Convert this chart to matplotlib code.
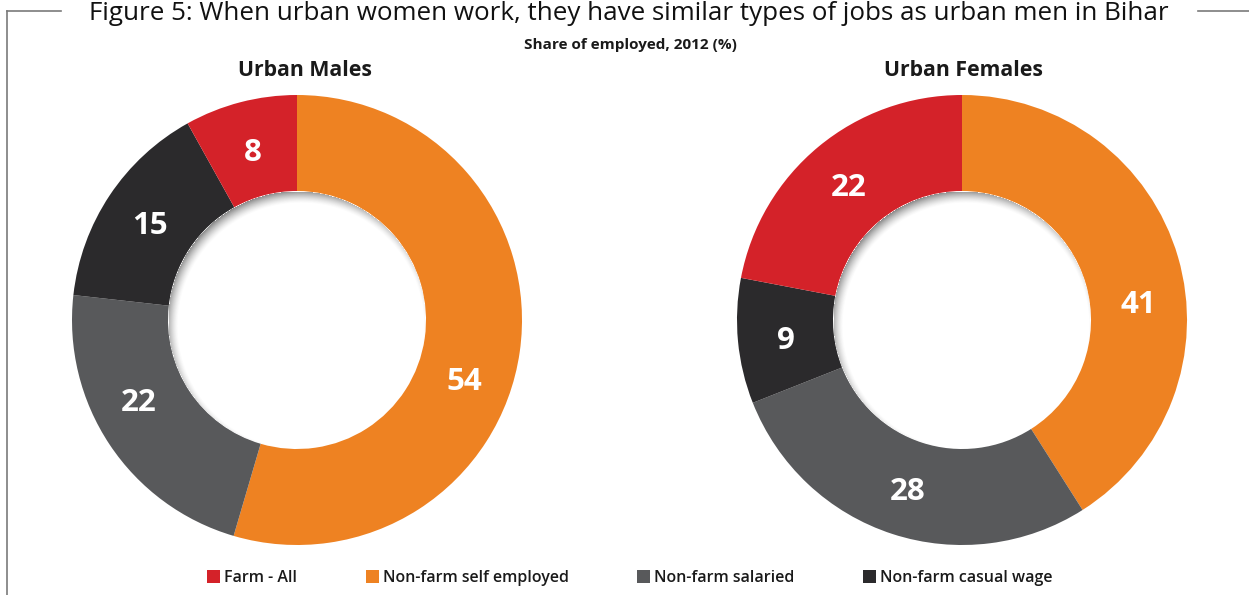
import numpy as np
import matplotlib
matplotlib.use("Agg")
import matplotlib.pyplot as plt
from matplotlib.patches import Patch, Circle
from matplotlib.lines import Line2D

# ---------------- data ----------------
categories = ["Farm - All", "Non-farm self employed", "Non-farm salaried", "Non-farm casual wage"]
panel_titles = ["Urban Males", "Urban Females"]
# values per category (same order as categories)
males = [8, 54, 22, 15]
females = [22, 41, 28, 9]

title = "Figure 5: When urban women work, they have similar types of jobs as urban men in Bihar"
subtitle = "Share of employed, 2012 (%)"

colors = {"Farm - All": "#d42229", "Non-farm self employed": "#ee8222",
          "Non-farm salaried": "#58595b", "Non-farm casual wage": "#2b2a2c"}
# drawing order clockwise from 12 o'clock
draw_order = [1, 2, 3, 0]

W, H = 1249, 595
fig = plt.figure(figsize=(W / 100, H / 100), dpi=100)
ax = fig.add_axes([0, 0, 1, 1])

FONT = ["Open Sans", "DejaVu Sans"]

def Y(py):
    return H - py

centers = [(297, Y(320)), (962, Y(320))]
title_dx = [8, 1]
R_OUT, R_IN = 225, 129
label_r = 177
label_angle_adj = [[-11, -7, 0, 0], [-10, 0, 0, 0]]
label_dy = -4

for p, vals in enumerate([males, females]):
    cx, cy = centers[p]
    v = [vals[i] for i in draw_order]
    cols = [colors[categories[i]] for i in draw_order]
    wedges, _ = ax.pie(v, colors=cols, startangle=90, counterclock=False,
                       radius=R_OUT, center=(cx, cy), frame=True,
                       wedgeprops=dict(width=R_OUT - R_IN, linewidth=0))
    for k, w in enumerate(wedges):
        mid = np.deg2rad((w.theta1 + w.theta2) / 2 + label_angle_adj[p][k])
        ax.text(cx + label_r * np.cos(mid), cy + label_r * np.sin(mid) + label_dy, str(v[k]),
                ha="center", va="center", color="white", fontsize=22.5,
                fontweight="bold", family=FONT)
    # inner shadow of hole (light from the lower right)
    n = 2 * R_IN
    xs = np.linspace(cx - R_IN, cx + R_IN, n)
    ys = np.linspace(cy - R_IN, cy + R_IN, n)
    XX, YY = np.meshgrid(xs, ys)
    d0 = np.hypot(XX - cx, YY - cy)
    d1 = np.hypot(XX - (cx + 4), YY - (cy - 6))
    a = np.clip((d1 - (R_IN - 6)) / 14.0, 0, 1) ** 1.5 * 0.65
    a[d0 > R_IN] = 0
    img = np.zeros((n, n, 4))
    img[..., :3] = 0.2
    img[..., 3] = a
    im = ax.imshow(img, extent=(cx - R_IN, cx + R_IN, cy - R_IN, cy + R_IN),
                   origin="lower", interpolation="bilinear", zorder=3)
    clip = Circle((cx, cy), R_IN, transform=ax.transData)
    im.set_clip_path(clip)
    ax.text(cx + title_dx[p], Y(70), panel_titles[p], ha="center", va="center", fontsize=15.3,
            fontweight="bold", family=FONT, color="#1a1a1a")

ax.set_xlim(0, W)
ax.set_ylim(0, H)
ax.set_aspect("equal")
ax.axis("off")

# title and frame lines
ax.text(629, Y(14), title, ha="center", va="center", fontsize=18.7, family=FONT, color="#111111")
ax.text(630, Y(45), subtitle, ha="center", va="center", fontsize=11, fontweight="bold",
        family=FONT, color="#1a1a1a")
lc = "#7a7a7a"
ax.add_line(Line2D([7.5, 7.5], [Y(10.5), 0], color=lc, lw=1.2))
ax.add_line(Line2D([7.5, 61], [Y(10.5), Y(10.5)], color=lc, lw=1.2))
ax.add_line(Line2D([1198, W], [Y(11), Y(11)], color=lc, lw=1.2))

handles = [Patch(facecolor=colors[c], edgecolor="none", label=c) for c in categories]
leg = ax.legend(handles=handles, loc="center", bbox_to_anchor=(630 / W, 1 - 578 / H),
                ncol=4, frameon=False, handlelength=0.8, handleheight=0.85,
                handletextpad=0.25, columnspacing=4.3,
                prop={"family": FONT, "weight": "semibold", "size": 11.5})
for t in leg.get_texts():
    t.set_color("#1a1a1a")

fig.savefig("out.png", dpi=100)
